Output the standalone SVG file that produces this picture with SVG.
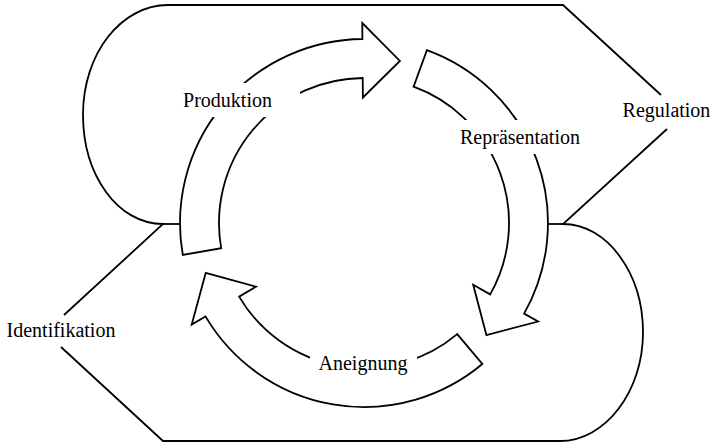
<svg xmlns="http://www.w3.org/2000/svg" width="714" height="444" viewBox="0 0 714 444">
<style>
.ln{fill:none;stroke:#000;stroke-width:1.8;stroke-linejoin:miter}
.arrow{fill:#fff;stroke:#000;stroke-width:1.8;stroke-linejoin:miter}
.bg{fill:#fff;stroke:none}
.lbl{font-family:"Liberation Serif","Times New Roman",serif;font-size:20px;fill:#000;text-anchor:middle}
</style>
<rect width="714" height="444" fill="#fff"/>
<g id="connectors">
<path class="ln" d="M64,315 L163,224 C117.7,224 83,175 83,114.5 C83,54 121,5 168,5 L563,5 L661,95"/>
<path class="ln" d="M163,224 L181,224"/>
<path class="ln" d="M667,129 L563,224 C607,224 643,273 643,332.5 C643,392 605,441 560,441 L163,441 L61,347"/>
<path class="ln" d="M547.5,224 L563,224"/>
</g>
<g id="node-produktion">
<path class="arrow" d="M182.8,254.95 A184,184 0 0 1 362.4,39 L362.3,23 L399.9,60.9 L362.9,97.5 L362.7,78 A145,145 0 0 0 221.2,248.18 Z"/>
<rect class="bg" x="168" y="83" width="132" height="34"/>
<text class="lbl" x="227.5" y="107">Produktion</text>
</g>
<g id="node-repraesentation">
<path class="arrow" d="M426.9,50.1 A184,184 0 0 1 524.1,313.6 L538.1,321.5 L486.4,335.1 L473.2,284.8 L490.2,294.4 A145,145 0 0 0 413.6,86.7 Z"/>
<rect class="bg" x="455" y="120" width="135" height="34"/>
<text class="lbl" x="520" y="144">Repräsentation</text>
</g>
<g id="node-aneignung">
<path class="arrow" d="M482.3,364 A184,184 0 0 1 205.5,316.4 L191.7,324.5 L205.7,272.9 L255.9,286.7 L239.1,296.6 A145,145 0 0 0 457.2,334.1 Z"/>
<rect class="bg" x="310" y="346" width="107" height="34"/>
<text class="lbl" x="363" y="370">Aneignung</text>
</g>
<g id="node-regulation">
<text class="lbl" x="666.5" y="117">Regulation</text>
</g>
<g id="node-identifikation">
<text class="lbl" x="61" y="337">Identifikation</text>
</g>
</svg>
